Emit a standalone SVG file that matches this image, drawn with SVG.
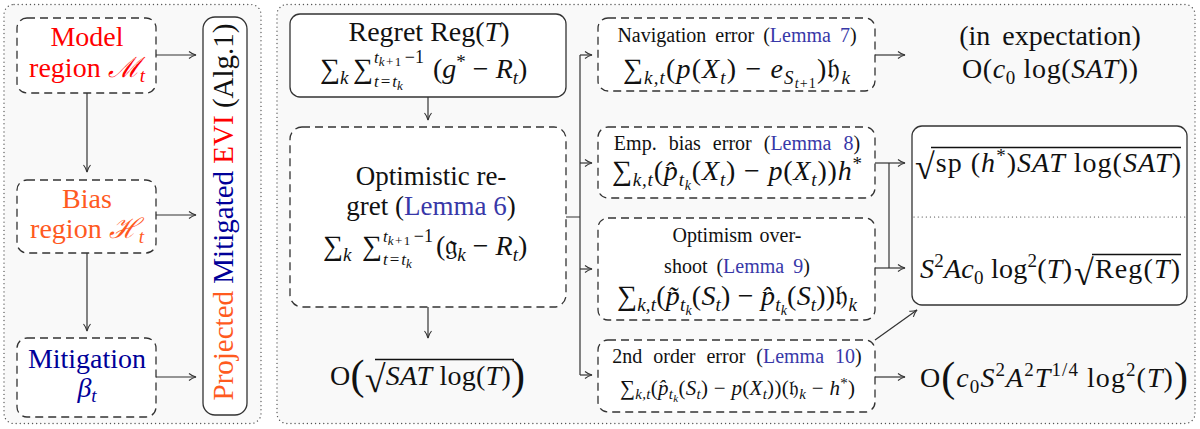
<svg xmlns="http://www.w3.org/2000/svg" width="1200" height="429" viewBox="0 0 1200 429">
<defs>
<marker id="ah" markerWidth="10" markerHeight="10" refX="8" refY="4" orient="auto" markerUnits="userSpaceOnUse">
<path d="M1,0.5 Q4,3 8,4 Q4,5 1,7.5" fill="none" stroke="#333" stroke-width="1.1"/>
</marker>
<style>
.f{font-family:"Liberation Serif","DejaVu Serif",serif;fill:#111}
.i{font-style:italic}
.n{font-style:normal}
.red{fill:#ff0000}
.org{fill:#ff5a1f}
.blu{fill:#000099}
.lem{fill:#3838a8}
.panel{fill:#f9f9f9;stroke:#555;stroke-width:1.3;stroke-dasharray:0.1 4;stroke-linecap:round}
.dash{fill:#fff;stroke:#333;stroke-width:1.3;stroke-dasharray:8 5}
.solid{fill:#fff;stroke:#333;stroke-width:1.3}
.c{fill:none;stroke:#333;stroke-width:1.2}
.a{marker-end:url(#ah)}
.dot{stroke:#444;stroke-width:1.2;stroke-dasharray:0.1 4;stroke-linecap:round}
.bar{stroke:#111;stroke-width:1.3}
</style>
</defs>

<rect class="panel" x="4" y="4.5" width="257" height="419" rx="10"/>
<rect class="panel" x="277" y="4.5" width="918" height="419" rx="10"/>

<g id="connectors">
<path class="c a" d="M87,93 V172"/>
<path class="c a" d="M87,253 V331"/>
<path class="c a" d="M156,55 H196"/>
<path class="c a" d="M156,215 H196"/>
<path class="c a" d="M156,377 H196"/>
<path class="c a" d="M428,97 V120"/>
<path class="c a" d="M428,307 V338"/>
<path class="c" d="M565,217 H580 M580,55 V375"/>
<path class="c a" d="M580,55 H592"/>
<path class="c a" d="M580,163 H592"/>
<path class="c a" d="M580,269 H592"/>
<path class="c a" d="M580,375 H592"/>
<path class="c a" d="M875,55 H905"/>
<path class="c a" d="M875,163 H905"/>
<path class="c a" d="M875,268 H905"/>
<path class="c" d="M889,163 V268"/>
<path class="c a" d="M875,340 L917,310"/>
<path class="c a" d="M875,377 H905"/>
</g>

<g id="model">
<rect class="dash" x="17" y="18" width="139" height="75" rx="10"/>
<text class="f red" x="87" y="46" font-size="28" text-anchor="middle">Model</text>
<text class="f red" x="87" y="77" font-size="28" text-anchor="middle">region <tspan class="i">ℳ</tspan><tspan class="i" font-size="19" baseline-shift="-5">t</tspan></text>
</g>

<g id="bias">
<rect class="dash" x="17" y="180" width="139" height="73" rx="10"/>
<text class="f org" x="87" y="208" font-size="28" text-anchor="middle">Bias</text>
<text class="f org" x="87" y="238" font-size="28" text-anchor="middle">region <tspan class="i">ℋ</tspan><tspan class="i" font-size="19" baseline-shift="-5">t</tspan></text>
</g>

<g id="mitigation">
<rect class="dash" x="17" y="338" width="139" height="79" rx="10"/>
<text class="f blu" x="87" y="368" font-size="28" text-anchor="middle">Mitigation</text>
<text class="f blu" x="87" y="397" font-size="28" text-anchor="middle"><tspan class="i">β</tspan><tspan class="i" font-size="19" baseline-shift="-5">t</tspan></text>
</g>

<g id="projected">
<rect class="solid" x="203" y="17" width="44" height="398" rx="12"/>
<text class="f" transform="translate(233,212) rotate(-90)" font-size="29" text-anchor="middle"><tspan class="org">Projected</tspan> <tspan class="blu">Mitigated</tspan> <tspan class="red">EVI</tspan> (Alg.1)</text>
</g>

<g id="regret">
<rect class="solid" x="290" y="14" width="276" height="83" rx="10"/>
<text class="f" x="429" y="41" font-size="28" text-anchor="middle">Regret Reg(<tspan class="i">T</tspan>)</text>
<text class="f" y="78" font-size="28"><tspan x="320">∑</tspan><tspan class="i" font-size="19" baseline-shift="-6">k</tspan><tspan x="353">∑</tspan></text>
<text class="f" font-size="17"><tspan x="374" y="63" class="i">t</tspan><tspan class="i" font-size="13" baseline-shift="-3" letter-spacing="1.5">k</tspan><tspan font-size="13" baseline-shift="-3" letter-spacing="1.5">+1</tspan><tspan dx="2" font-size="18">−1</tspan><tspan x="374" y="87" class="i">t</tspan><tspan dx="2">=</tspan><tspan class="i" dx="2">t</tspan><tspan class="i" font-size="13" baseline-shift="-3">k</tspan></text>
<text class="f" x="433" y="78" font-size="28">(<tspan class="i">g</tspan><tspan font-size="19" baseline-shift="10">*</tspan> − <tspan class="i">R</tspan><tspan class="i" font-size="19" baseline-shift="-6">t</tspan>)</text>
</g>

<g id="optimistic">
<rect class="dash" x="290" y="127" width="276" height="180" rx="12"/>
<text class="f" x="431" y="185" font-size="27" text-anchor="middle">Optimistic re-</text>
<text class="f" x="431" y="215" font-size="27" text-anchor="middle">gret (<tspan class="lem">Lemma 6</tspan>)</text>
<text class="f" y="255" font-size="28"><tspan x="323">∑</tspan><tspan class="i" font-size="19" baseline-shift="-6">k</tspan><tspan x="362">∑</tspan></text>
<text class="f" font-size="17"><tspan x="383" y="242" class="i">t</tspan><tspan class="i" font-size="13" baseline-shift="-3" letter-spacing="1.5">k</tspan><tspan font-size="13" baseline-shift="-3" letter-spacing="1.5">+1</tspan><tspan dx="2" font-size="18">−1</tspan><tspan x="383" y="265" class="i">t</tspan><tspan dx="2">=</tspan><tspan class="i" dx="2">t</tspan><tspan class="i" font-size="13" baseline-shift="-3">k</tspan></text>
<text class="f" x="436" y="255" font-size="28">(𝔤<tspan class="i" font-size="19" baseline-shift="-6">k</tspan> − <tspan class="i">R</tspan><tspan class="i" font-size="19" baseline-shift="-6">t</tspan>)</text>
</g>

<g id="opt-bound">
<line class="bar" x1="375" y1="359.5" x2="514" y2="359.5"/>
<text class="f" x="330" y="385" font-size="28" textLength="195" lengthAdjust="spacing">O<tspan font-size="42" baseline-shift="-4">(</tspan><tspan font-size="38" baseline-shift="-7">√</tspan><tspan class="i">SAT</tspan> log(<tspan class="i">T</tspan>)<tspan font-size="42" baseline-shift="-4">)</tspan></text>
</g>

<g id="navigation">
<rect class="dash" x="598" y="18" width="277" height="73" rx="10"/>
<text class="f" x="737" y="42" font-size="20" text-anchor="middle" word-spacing="4">Navigation error (<tspan class="lem">Lemma 7</tspan>)</text>
<text class="f" x="623" y="78" font-size="28" textLength="227" lengthAdjust="spacing">∑<tspan class="i" font-size="19" baseline-shift="-6">k,t</tspan>(<tspan class="i">p</tspan>(<tspan class="i">X</tspan><tspan class="i" font-size="19" baseline-shift="-6">t</tspan>) − <tspan class="i">e</tspan><tspan class="i" font-size="19" baseline-shift="-6">S</tspan><tspan class="i" font-size="14" baseline-shift="-10">t</tspan><tspan font-size="14" baseline-shift="-10">+1</tspan>)𝔥<tspan class="i" font-size="19" baseline-shift="-6">k</tspan></text>
</g>

<g id="empbias">
<rect class="dash" x="598" y="127" width="277" height="71" rx="10"/>
<text class="f" x="737" y="150" font-size="20" text-anchor="middle" word-spacing="7">Emp. bias error (<tspan class="lem">Lemma 8</tspan>)</text>
<text class="f" x="612" y="180" font-size="28" textLength="250" lengthAdjust="spacing">∑<tspan class="i" font-size="19" baseline-shift="-6">k,t</tspan>(<tspan class="i">p̂</tspan><tspan class="i" font-size="19" baseline-shift="-6">t</tspan><tspan class="i" font-size="14" baseline-shift="-10">k</tspan>(<tspan class="i">X</tspan><tspan class="i" font-size="19" baseline-shift="-6">t</tspan>) − <tspan class="i">p</tspan>(<tspan class="i">X</tspan><tspan class="i" font-size="19" baseline-shift="-6">t</tspan>))<tspan class="i">h</tspan><tspan font-size="19" baseline-shift="10">*</tspan></text>
</g>

<g id="overshoot">
<rect class="dash" x="598" y="218" width="277" height="102" rx="10"/>
<text class="f" x="737" y="242" font-size="20" text-anchor="middle" word-spacing="2">Optimism over-</text>
<text class="f" x="737" y="273" font-size="20" text-anchor="middle" word-spacing="4">shoot (<tspan class="lem">Lemma 9</tspan>)</text>
<text class="f" x="617" y="305" font-size="28" textLength="240" lengthAdjust="spacing">∑<tspan class="i" font-size="19" baseline-shift="-6">k,t</tspan>(<tspan class="i">p̃</tspan><tspan class="i" font-size="19" baseline-shift="-6">t</tspan><tspan class="i" font-size="14" baseline-shift="-10">k</tspan>(<tspan class="i">S</tspan><tspan class="i" font-size="19" baseline-shift="-6">t</tspan>) − <tspan class="i">p̂</tspan><tspan class="i" font-size="19" baseline-shift="-6">t</tspan><tspan class="i" font-size="14" baseline-shift="-10">k</tspan>(<tspan class="i">S</tspan><tspan class="i" font-size="19" baseline-shift="-6">t</tspan>))𝔥<tspan class="i" font-size="19" baseline-shift="-6">k</tspan></text>
</g>

<g id="secondorder">
<rect class="dash" x="598" y="340" width="277" height="72" rx="10"/>
<text class="f" x="737" y="363" font-size="20" text-anchor="middle" word-spacing="6">2nd order error (<tspan class="lem">Lemma 10</tspan>)</text>
<text class="f" x="620" y="395" font-size="21" textLength="235" lengthAdjust="spacing">∑<tspan class="i" font-size="15" baseline-shift="-4">k,t</tspan>(<tspan class="i">p̂</tspan><tspan class="i" font-size="15" baseline-shift="-4">t</tspan><tspan class="i" font-size="11" baseline-shift="-7">k</tspan>(<tspan class="i">S</tspan><tspan class="i" font-size="15" baseline-shift="-4">t</tspan>) − <tspan class="i">p</tspan>(<tspan class="i">X</tspan><tspan class="i" font-size="15" baseline-shift="-4">t</tspan>))(𝔥<tspan class="i" font-size="15" baseline-shift="-4">k</tspan> − <tspan class="i">h</tspan><tspan font-size="15" baseline-shift="7">*</tspan>)</text>
</g>

<g id="expectation">
<text class="f" x="1050" y="45" font-size="28" text-anchor="middle" word-spacing="5">(in expectation)</text>
<text class="f" x="962" y="78" font-size="28" textLength="176" lengthAdjust="spacing">O(<tspan class="i">c</tspan><tspan font-size="19" baseline-shift="-6">0</tspan> log(<tspan class="i">SAT</tspan>))</text>
</g>

<g id="bounds">
<rect class="solid" x="912" y="126" width="275" height="179" rx="10"/>
<line class="dot" x1="914" y1="217" x2="1185" y2="217"/>
<line class="bar" x1="931" y1="147.5" x2="1181" y2="147.5"/>
<text class="f" x="915" y="172" font-size="28" textLength="266" lengthAdjust="spacing"><tspan font-size="36" baseline-shift="-7">√</tspan>sp (<tspan class="i">h</tspan><tspan font-size="19" baseline-shift="10">*</tspan>)<tspan class="i">SAT</tspan> log(<tspan class="i">SAT</tspan>)</text>
<text class="f" x="920" y="278" font-size="28" textLength="152" lengthAdjust="spacing"><tspan class="i">S</tspan><tspan font-size="19" baseline-shift="11">2</tspan><tspan class="i">Ac</tspan><tspan font-size="19" baseline-shift="-6">0</tspan> log<tspan font-size="19" baseline-shift="11">2</tspan>(<tspan class="i">T</tspan>)</text>
<line class="bar" x1="1092" y1="254.5" x2="1181" y2="254.5"/>
<text class="f" x="1074" y="278" font-size="28" textLength="106" lengthAdjust="spacing"><tspan font-size="36" baseline-shift="-7">√</tspan>Reg(<tspan class="i">T</tspan>)</text>
</g>

<g id="second-bound">
<text class="f" x="920" y="387" font-size="28" textLength="268" lengthAdjust="spacing">O<tspan font-size="42" baseline-shift="-4">(</tspan><tspan class="i">c</tspan><tspan font-size="19" baseline-shift="-6">0</tspan><tspan class="i">S</tspan><tspan font-size="19" baseline-shift="11">2</tspan><tspan class="i">A</tspan><tspan font-size="19" baseline-shift="11">2</tspan><tspan class="i">T</tspan><tspan font-size="19" baseline-shift="11">1/4</tspan> log<tspan font-size="19" baseline-shift="11">2</tspan>(<tspan class="i">T</tspan>)<tspan font-size="42" baseline-shift="-4">)</tspan></text>
</g>
</svg>
